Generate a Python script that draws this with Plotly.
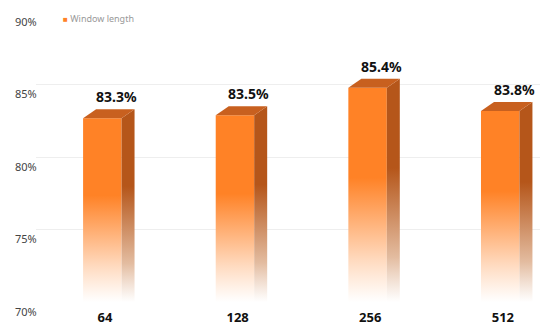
import plotly.graph_objects as go

# Window length comparison (accuracy, %)
categories = ["64", "128", "256", "512"]
accuracy = [83.3, 83.5, 85.4, 83.8]
value_labels = ["83.3%", "83.5%", "85.4%", "83.8%"]
y_ticks = [70, 75, 80, 85, 90]
y_tick_labels = ["70%", "75%", "80%", "85%", "90%"]

base = 70
half_w = 0.145  # half width of the front face (category units)
dx = 0.098  # depth offset, x
dy = 0.62  # depth offset, y (%)

front_scale = [[0, "rgba(255,255,255,0.9)"], [0.2, "#FFD9BD"], [0.58, "#FF8226"], [1, "#FF8226"]]
side_scale = [[0, "rgba(255,255,255,0.9)"], [0.2, "#E3BCA0"], [0.6, "#B5561A"], [1, "#B5561A"]]

fig = go.Figure()

for i, v in enumerate(accuracy):
    c = i - 0.02
    x0, x1 = c - half_w, c + half_w
    top = v - dy
    # front face
    fig.add_trace(
        go.Scatter(
            x=[x0, x1, x1, x0, x0],
            y=[base, base, top, top, base],
            fill="toself",
            mode="none",
            fillgradient=dict(type="vertical", colorscale=front_scale, start=base, stop=top),
            showlegend=False,
            hoverinfo="skip",
        )
    )
    # side face
    fig.add_trace(
        go.Scatter(
            x=[x1, x1 + dx, x1 + dx, x1, x1],
            y=[base, base, v, top, base],
            fill="toself",
            mode="none",
            fillgradient=dict(type="vertical", colorscale=side_scale, start=base, stop=v),
            showlegend=False,
            hoverinfo="skip",
        )
    )
    # top face
    fig.add_trace(
        go.Scatter(
            x=[x0, x1, x1 + dx, x0 + dx, x0],
            y=[top, top, v, v, top],
            fill="toself",
            mode="none",
            fillcolor="#C8601F",
            showlegend=False,
            hoverinfo="skip",
        )
    )
    fig.add_annotation(
        x=i + 0.085,
        y=v,
        text="<b>" + value_labels[i] + "</b>",
        showarrow=False,
        yanchor="bottom",
        yshift=1,
        font=dict(size=14, color="#111111"),
    )

# y labels sit a little below their gridlines
for t, lab in zip(y_ticks, y_tick_labels):
    fig.add_annotation(
        xref="paper",
        x=-0.046,
        y=t,
        text=lab,
        showarrow=False,
        xanchor="left",
        yshift=-9,
        font=dict(size=11, color="#444444"),
    )

# legend
fig.add_annotation(
    xref="paper",
    yref="paper",
    x=0.05,
    y=0.976,
    text="<span style='color:#FF8226;font-size:8px'>■</span> Window length",
    showarrow=False,
    xanchor="left",
    yanchor="middle",
    font=dict(size=9, color="#999999"),
)

fig.update_layout(
    width=550,
    height=333,
    margin=dict(l=36, r=10, t=12, b=31),
    paper_bgcolor="white",
    plot_bgcolor="white",
    font=dict(family="Noto Sans", size=11, color="#444444"),
    showlegend=False,
    xaxis=dict(
        tickmode="array",
        tickvals=list(range(len(categories))),
        ticktext=["<b>" + c + "</b>" for c in categories],
        range=[-0.52, 3.28],
        showgrid=False,
        zeroline=False,
        tickfont=dict(size=13, color="#111111"),
        ticks="",
        ticklabelstandoff=6,
        automargin=False,
    ),
    yaxis=dict(
        range=[70, 90],
        tickvals=y_ticks,
        showticklabels=False,
        showgrid=True,
        gridcolor="#EEEEEE",
        gridwidth=1,
        zeroline=False,
        ticks="",
        automargin=False,
    ),
)

# page body has a default margin; drop it so the figure fills the window
fig.write_html(
    "out.html",
    config={"displayModeBar": False},
    post_script="document.body.style.margin='0';",
)
